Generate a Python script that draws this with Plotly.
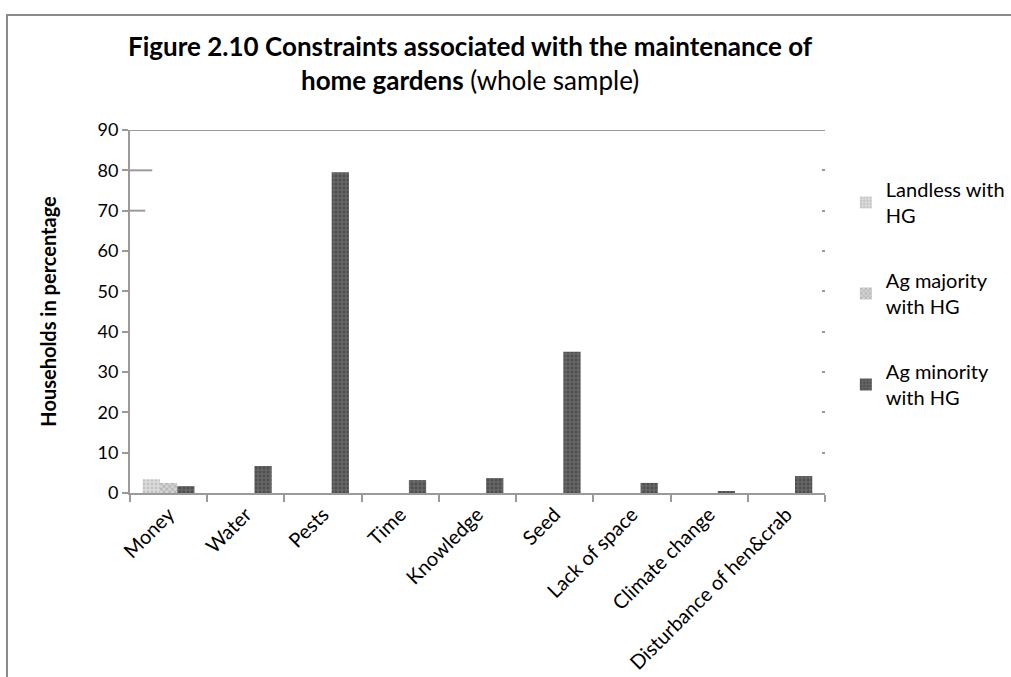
import plotly.graph_objects as go

categories = ["Money", "Water", "Pests", "Time", "Knowledge", "Seed",
              "Lack of space", "Climate change", "Disturbance of hen&crab"]
landless_hg = [3.4, 0, 0, 0, 0, 0, 0, 0, 0]
ag_majority_hg = [2.5, 0, 0, 0, 0, 0, 0, 0, 0]
ag_minority_hg = [1.7, 6.7, 79.5, 3.2, 3.7, 35.0, 2.5, 0.5, 4.2]
y_ticks = [0, 10, 20, 30, 40, 50, 60, 70, 80, 90]

FONT = "Lato, 'Open Sans', sans-serif"
AXIS_GREY = "#9a9a9a"

fig = go.Figure()
series = [
    ("Landless with<br>HG", landless_hg, "#dcdcdc", "#a8a8a8", "."),
    ("Ag majority<br>with HG", ag_majority_hg, "#d2d2d2", "#8a8a8a", "x"),
    ("Ag minority<br>with HG", ag_minority_hg, "#666666", "#383838", "."),
]
for i, (name, vals, bg, fg, shp) in enumerate(series):
    fig.add_trace(go.Bar(
        x=categories, y=vals, name=name, legendgroup=f"g{i}",
        marker=dict(color=bg, line=dict(width=0),
                    pattern=dict(shape=shp, bgcolor=bg, fgcolor=fg,
                                 size=4, solidity=0.4, fillmode="overlay")),
    ))

# mirrored right-hand tick marks without an axis line
fig.add_trace(go.Scatter(x=[categories[0]], y=[None], yaxis="y2",
                         showlegend=False, hoverinfo="skip"))

fig.update_layout(
    width=1011, height=677,
    margin=dict(l=130, r=186, t=130, b=184, autoexpand=False),
    paper_bgcolor="white", plot_bgcolor="white",
    font=dict(family=FONT, color="black", size=18),
    barmode="group", bargap=0.33, bargroupgap=0,
    title=dict(
        text="<b>Figure 2.10 Constraints associated with the maintenance of<br>"
             "home gardens</b> (whole sample)",
        x=0.465, xanchor="center", y=0.917, yanchor="top",
        font=dict(size=26, family=FONT),
    ),
    xaxis=dict(
        showline=True, linecolor=AXIS_GREY, linewidth=2, automargin=False,
        ticks="outside", tickson="boundaries", ticklen=7, tickcolor=AXIS_GREY,
        tickwidth=2, tickangle=-45, tickfont=dict(size=20),
        showgrid=False,
    ),
    yaxis=dict(
        range=[0, 90], tickvals=y_ticks, showgrid=False, zeroline=False,
        showline=True, linecolor=AXIS_GREY, linewidth=2, automargin=False,
        ticks="outside", ticklen=6, tickcolor=AXIS_GREY, tickwidth=2,
        tickfont=dict(size=18),
        title=dict(text="<b>Households in percentage</b>",
                   font=dict(size=20), standoff=36),
    ),
    yaxis2=dict(
        overlaying="y", side="right", range=[0, 90], tickvals=y_ticks,
        showticklabels=False, showgrid=False, zeroline=False, showline=False,
        ticks="inside", ticklen=3, tickcolor=AXIS_GREY, tickwidth=2,
        automargin=False,
    ),
    legend=dict(
        x=1.03, xanchor="left", y=0.89, yanchor="top",
        font=dict(size=20), traceorder="grouped", tracegroupgap=36,
        bgcolor="rgba(0,0,0,0)", itemsizing="constant",
    ),
    shapes=[
        # top border line of the plot area at 90
        dict(type="line", xref="paper", yref="y", x0=0, x1=1, y0=90, y1=90,
             line=dict(color=AXIS_GREY, width=2)),
        # short leftover strokes at 80 and 70
        dict(type="line", xref="paper", yref="y", x0=0, x1=0.032, y0=80, y1=80,
             line=dict(color=AXIS_GREY, width=2)),
        dict(type="line", xref="paper", yref="y", x0=0, x1=0.022, y0=70, y1=70,
             line=dict(color=AXIS_GREY, width=2)),
        # outer frame of the figure
        dict(type="rect", xref="paper", yref="paper",
             x0=-0.177, x1=1.3, y0=-0.6, y1=1.317,
             line=dict(color="#8a8a8a", width=2), layer="below"),
    ],
)

fig.write_html("out.html")
